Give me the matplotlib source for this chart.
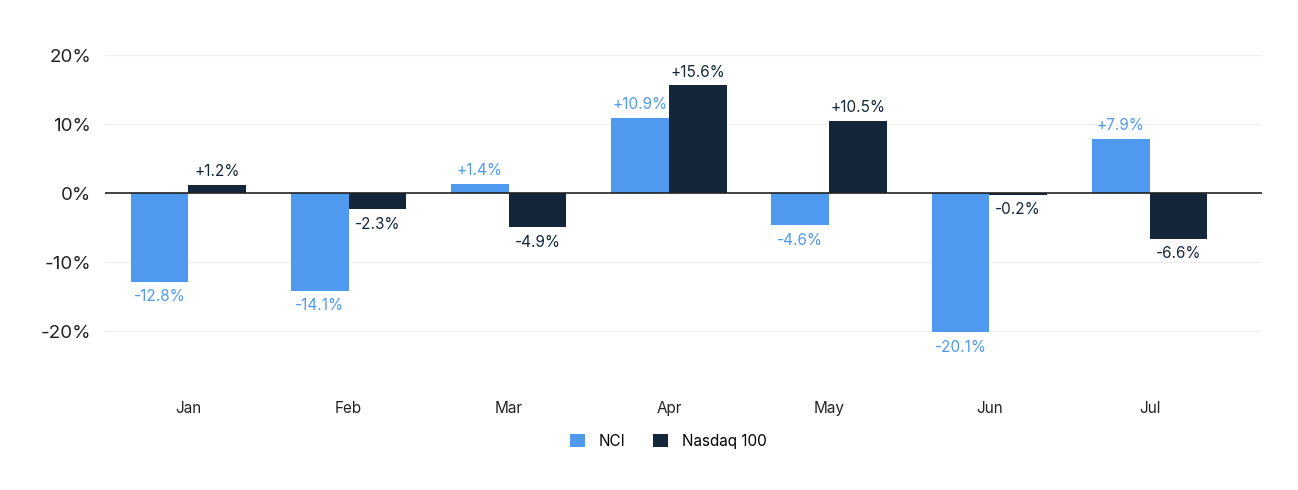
import matplotlib.pyplot as plt
import numpy as np

months = ["Jan", "Feb", "Mar", "Apr", "May", "Jun", "Jul"]
nci = [-12.8, -14.1, 1.4, 10.9, -4.6, -20.1, 7.9]
nasdaq = [1.2, -2.3, -4.9, 15.6, 10.5, -0.2, -6.6]
yticks = [-20, -10, 0, 10, 20]

blue = "#4f9aef"
navy = "#13263a"

plt.rcParams["font.family"] = ["Inter", "DejaVu Sans"]

fig = plt.figure(figsize=(12.98, 4.9), dpi=100)
ax = fig.add_axes([0.081, 0.204, 0.891, 0.733])

x = np.arange(len(months))
w = 0.36
b1 = ax.bar(x - w / 2, nci, w, color=blue, label="NCI", zorder=2)
b2 = ax.bar(x + w / 2, nasdaq, w, color=navy, label="Nasdaq 100", zorder=2)

# value labels
for bars, vals, col in [(b1, nci, blue), (b2, nasdaq, navy)]:
    for rect, v in zip(bars, vals):
        cx = rect.get_x() + rect.get_width() / 2
        txt = f"{v:+.1f}%"
        if v >= 0:
            ax.annotate(txt, (cx, v), xytext=(0, 4), textcoords="offset points",
                        ha="center", va="bottom", color=col, fontsize=11)
        else:
            ax.annotate(txt, (cx, v), xytext=(0, -5.5), textcoords="offset points",
                        ha="center", va="top", color=col, fontsize=11)

ax.set_xlim(-0.52, 6.7)
ax.set_ylim(-28.5, 23.5)
ax.set_yticks(yticks)
ax.set_yticklabels([f"{t}%" for t in yticks], fontsize=13.5, color="#222222")
ax.set_xticks(x)
ax.set_xticklabels(months, fontsize=11, color="#222222")
ax.tick_params(axis="both", length=0)
ax.tick_params(axis="x", pad=8)
ax.tick_params(axis="y", pad=10)

for t in yticks:
    if t != 0:
        ax.axhline(t, color="#f0f0f0", lw=1, zorder=0)
ax.axhline(0, color="#222222", lw=1.2, zorder=3)

for s in ax.spines.values():
    s.set_visible(False)

ax.legend(loc="center", bbox_to_anchor=(0.487, -0.142), ncol=2, frameon=False,
          fontsize=11, handlelength=1.0, handleheight=1.0, columnspacing=1.8,
          handletextpad=0.9)

fig.savefig("out.png", dpi=100)
